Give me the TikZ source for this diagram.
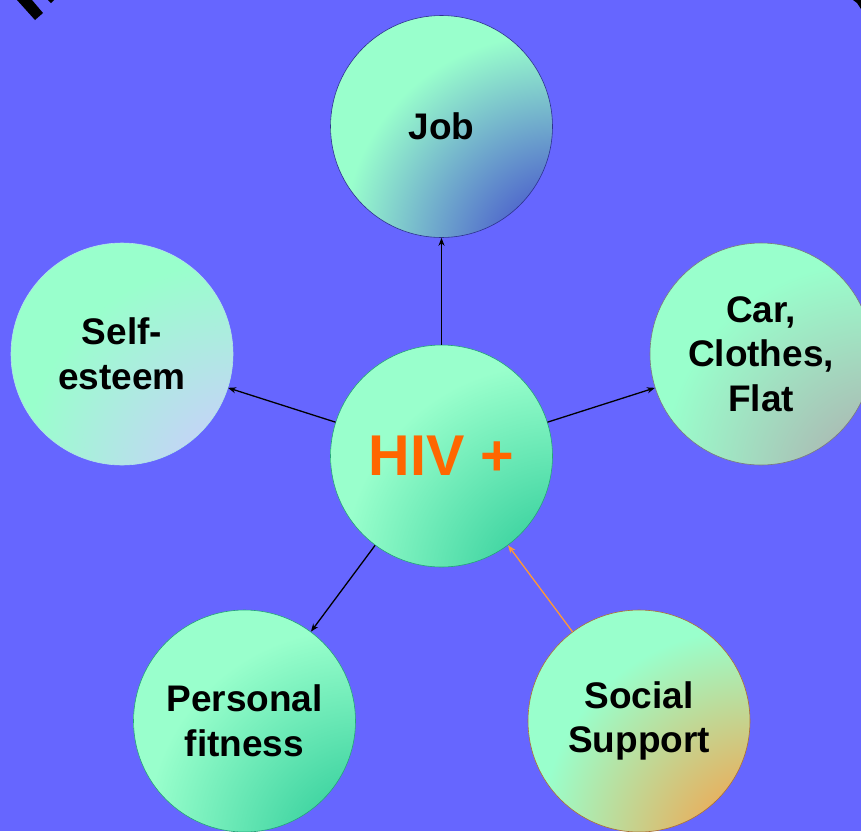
\documentclass[tikz,border=0pt]{standalone}
\usepackage{fontspec}
\setmainfont{Liberation Sans}
\usetikzlibrary{arrows.meta}
\definecolor{bgblue}{HTML}{6666FF}
\definecolor{mint}{HTML}{99FFCC}
\definecolor{cjob}{HTML}{4048CC}
\definecolor{cself}{HTML}{CCCCFF}
\definecolor{ccar}{HTML}{AEB0B0}
\definecolor{cteal}{HTML}{2ECC99}
\definecolor{csoc}{HTML}{F8A048}
\definecolor{hivtext}{HTML}{FF6600}
\definecolor{socline}{HTML}{FF9933}
\pgfdeclareradialshading{shjob}{\pgfpoint{31bp}{-33bp}}{color(0bp)=(cjob); color(9bp)=(cjob); color(46bp)=(mint); color(200bp)=(mint)}
\pgfdeclareradialshading{shself}{\pgfpoint{31bp}{-33bp}}{color(0bp)=(cself); color(9bp)=(cself); color(46bp)=(mint); color(200bp)=(mint)}
\pgfdeclareradialshading{shcar}{\pgfpoint{31bp}{-33bp}}{color(0bp)=(ccar); color(9bp)=(ccar); color(46bp)=(mint); color(200bp)=(mint)}
\pgfdeclareradialshading{shteal}{\pgfpoint{31bp}{-33bp}}{color(0bp)=(cteal); color(9bp)=(cteal); color(46bp)=(mint); color(200bp)=(mint)}
\pgfdeclareradialshading{shsoc}{\pgfpoint{31bp}{-33bp}}{color(0bp)=(csoc); color(9bp)=(csoc); color(46bp)=(mint); color(200bp)=(mint)}
\begin{document}
\begin{tikzpicture}[x=1pt,y=-1pt,
  bubble/.style={circle, minimum size=222pt, inner sep=0pt, shade, line width=0.6pt,
    align=center, font=\bfseries\fontsize{37}{44.5}\selectfont, text=black},
  link/.style={line width=1.3pt, draw=black, -{Stealth[length=8pt,width=6pt]}}
]
\fill[bgblue] (0,0) rectangle (861,831);
\useasboundingbox (0,0) rectangle (861,831);
% fragments of clipped title
\fill[black] (17,0) -- (32,0) -- (43,13) -- (35,20) -- cycle;
\fill[black] (48,0) -- (54,0) -- (51,3) -- cycle;
\fill[black] (853,0) -- (861,0) -- (861,9) -- (857,3) -- cycle;
% bubbles
\node[bubble, shading=shjob, draw=cjob!70!black] (job) at (441.5,126.5) {Job};
\node[bubble, shading=shself, draw=cself!50!mint] (self) at (122,354) {Self-\\esteem};
\node[bubble, shading=shcar, draw=ccar!70!black] (car) at (761,354) {Car,\\Clothes,\\Flat};
\node[bubble, shading=shteal, draw=cteal!80!black, font=\bfseries\fontsize{57.5}{60}\selectfont, text=hivtext] (hiv) at (441.5,456) {HIV +};
\node[bubble, shading=shteal, draw=cteal!80!black] (pers) at (244.5,721) {Personal\\fitness};
\node[bubble, shading=shsoc, draw=csoc!70!black] (soc) at (639,721) {Social\\Support};
% connectors
\draw[link] (hiv) -- (job);
\draw[link] (hiv) -- (self);
\draw[link] (hiv) -- (car);
\draw[link] (hiv) -- (pers);
\draw[link, draw=socline] (soc) -- (hiv);
\end{tikzpicture}
\end{document}
